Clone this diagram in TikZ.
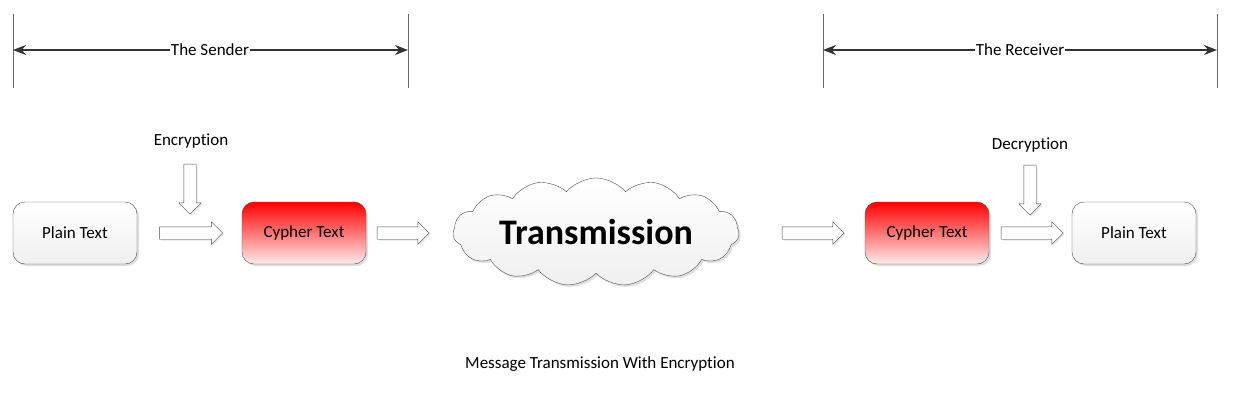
\documentclass[tikz,border=0pt]{standalone}
\usepackage{fontspec}
\setmainfont[Ligatures={NoCommon,NoRare,NoDiscretionary}]{Carlito}
\usetikzlibrary{shapes.arrows,shapes.symbols,shadows,arrows.meta}
\begin{document}
\begin{tikzpicture}[x=1pt,y=-1pt,
  box/.style={draw=black!70,rounded corners=12pt,minimum width=124pt,minimum height=62pt,font=\fontsize{17}{20}\selectfont,drop shadow={opacity=0.25,shadow xshift=2pt,shadow yshift=-2pt},top color=white,bottom color=black!6},
  red/.style={box,top color=red,bottom color=red!8},
  barr/.style={single arrow,draw=black!70,fill=white,minimum height=63pt,inner xsep=0pt,inner ysep=6pt,single arrow head extend=5pt,single arrow head indent=0pt,drop shadow={opacity=0.2,shadow xshift=1.5pt,shadow yshift=-1.5pt}},
  varr/.style={barr,inner xsep=6pt,inner ysep=0pt,shape border rotate=270},
  lbl/.style={font=\fontsize{17}{20}\selectfont},
  vl/.style={draw=black!60,line width=0.6pt},
  dim/.style={draw=black!80,line width=1.3pt,{Stealth[length=13pt,width=10pt]}-{Stealth[length=13pt,width=10pt]}}]
\useasboundingbox (0,0) rectangle (1245,402);
% sender
\coordinate (s1t) at (13,14); \coordinate (s1b) at (13,88);
\coordinate (s2t) at (408,14); \coordinate (s2b) at (408,88);
\draw[vl] (s1t)--(s1b); \draw[vl] (s2t)--(s2b);
\coordinate (sa) at (13,50); \coordinate (sb) at (408,50);
\draw[dim] (sa)--(sb);
\node[lbl,fill=white,inner sep=1pt] (snd) at (210,50) {The Sender};
% receiver
\coordinate (r1t) at (823,14); \coordinate (r1b) at (823,88);
\coordinate (r2t) at (1217,14); \coordinate (r2b) at (1217,88);
\draw[vl] (r1t)--(r1b); \draw[vl] (r2t)--(r2b);
\coordinate (ra) at (823,50); \coordinate (rb) at (1217,50);
\draw[dim] (ra)--(rb);
\node[lbl,fill=white,inner sep=1pt] (rcv) at (1020,50) {The Receiver};
% boxes
\node[box] (p1) at (75,233) {Plain Text};
\node[red] (c1) at (304,233) {Cypher Text};
\node[red] (c2) at (927,233) {Cypher Text};
\node[box] (p2) at (1134,233) {Plain Text};
\node[cloud,cloud puffs=15,cloud puff arc=100,aspect=3.6,draw=black!70,top color=white,bottom color=black!6,minimum width=286pt,minimum height=108pt,inner sep=0pt,drop shadow={opacity=0.25,shadow xshift=2pt,shadow yshift=-2pt},font=\bfseries\fontsize{36}{42}\selectfont] (cl) at (596,232) {Transmission};
% block arrows
\node[barr] (a1) at (188,233) {};
\node[barr,minimum height=52pt] (a2) at (400,233) {};
\node[barr,minimum height=62pt] (a3) at (810,233) {};
\node[barr,minimum height=62pt] (a4) at (1029,233) {};
\node[varr,minimum height=50pt] (d1) at (190,186) {};
\node[varr,minimum height=50pt] (d2) at (1030,187) {};
\node[lbl] (enc) at (191,141) {Encryption};
\node[lbl] (dec) at (1030,145) {Decryption};
\node[lbl] (cap) at (600,364) {Message Transmission With Encryption};
\end{tikzpicture}
\end{document}
